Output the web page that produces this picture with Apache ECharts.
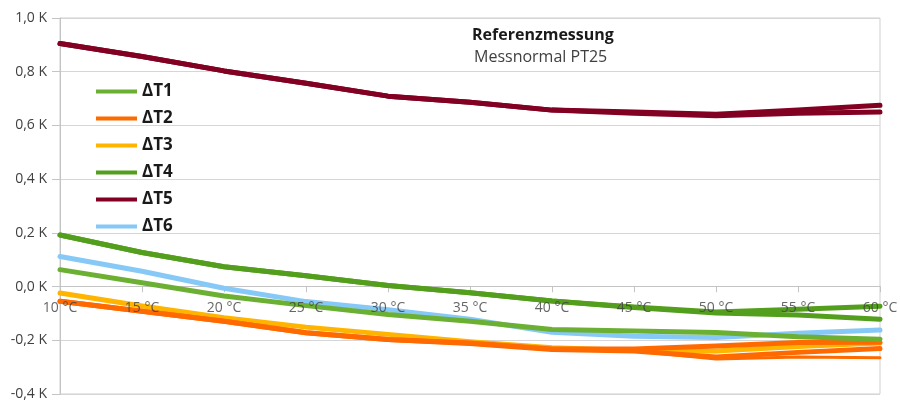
<!DOCTYPE html>
<html>
<head>
<meta charset="utf-8">
<script src="https://cdn.jsdelivr.net/npm/echarts@6/dist/echarts.min.js"></script>
<style>
  html, body { margin: 0; padding: 0; background: #ffffff; }
  #chart { width: 900px; height: 401px; }
</style>
</head>
<body>
<div id="chart"></div>
<script>
// Temperature points of the reference measurement
const categories = ['10 °C', '15 °C', '20 °C', '25 °C', '30 °C', '35 °C', '40 °C', '45 °C', '50 °C', '55 °C', '60 °C'];

// Deviations in K (two runs where the traces separate)
const dT1  = [0.063, 0.014, -0.035, -0.071, -0.104, -0.129, -0.160, -0.165, -0.171, -0.187, -0.196];
const dT2  = [-0.055, -0.092, -0.129, -0.172, -0.197, -0.210, -0.232, -0.232, -0.221, -0.208, -0.207];
const dT2b = [-0.055, -0.092, -0.129, -0.172, -0.197, -0.212, -0.234, -0.240, -0.262, -0.245, -0.231];
const dT2c = [-0.055, -0.092, -0.129, -0.172, -0.197, -0.212, -0.234, -0.240, -0.270, -0.262, -0.265];
const dT3  = [-0.024, -0.072, -0.116, -0.151, -0.178, -0.205, -0.228, -0.238, -0.240, -0.223, -0.210];
const dT4  = [0.192, 0.127, 0.074, 0.040, 0.004, -0.023, -0.054, -0.076, -0.095, -0.084, -0.073];
const dT4b = [0.192, 0.127, 0.074, 0.040, 0.004, -0.023, -0.054, -0.078, -0.098, -0.106, -0.122];
const dT5  = [0.905, 0.857, 0.803, 0.757, 0.709, 0.686, 0.657, 0.650, 0.642, 0.657, 0.675];
const dT5b = [0.905, 0.857, 0.803, 0.757, 0.709, 0.686, 0.657, 0.645, 0.636, 0.645, 0.650];
const dT6  = [0.112, 0.057, -0.006, -0.056, -0.086, -0.122, -0.170, -0.185, -0.190, -0.174, -0.162];

const legendNames = ['ΔT1', 'ΔT2', 'ΔT3', 'ΔT4', 'ΔT5', 'ΔT6'];
const titleText = 'Referenzmessung';
const subtitleText = 'Messnormal PT25';

// Value axis range
const Y_MIN = -0.4, Y_MAX = 1.0, Y_STEP = 0.2;

const FONT = '"Open Sans", "DejaVu Sans", sans-serif';
const colors = {
  t1: '#6cb033', t2: '#ff6a00', t3: '#ffb400', t4: '#539f1d', t5: '#820022', t6: '#86c9f7'
};

const CHART_H = 401, GRID_TOP = 18, GRID_BOTTOM = 6;
const gridHeight = CHART_H - GRID_TOP - GRID_BOTTOM;
// the category axis is drawn across the zero line of the value axis
const zeroShift = gridHeight * (0 - Y_MIN) / (Y_MAX - Y_MIN);

function line(name, data, color, width) {
  return {
    name: name, type: 'line', data: data, symbol: 'none', smooth: false,
    z: 2,
    color: color,
    lineStyle: { color: color, width: width || 5, cap: 'round', join: 'round' },
    emphasis: { disabled: true }, silent: true
  };
}

// Temperature labels placed on the zero line, above the traces
const tempLabels = {
  name: 'Temperatur', type: 'scatter',
  data: categories.map(c => [c, 0]),
  symbol: 'circle', symbolSize: 1,
  itemStyle: { color: 'rgba(0,0,0,0)' },
  z: 10, silent: true,
  emphasis: { disabled: true },
  label: {
    show: true, position: 'bottom', distance: 14,
    formatter: p => categories[p.dataIndex],
    fontFamily: FONT, fontSize: 14, color: '#404040'
  },
  labelLayout: { hideOverlap: false }
};

const chart = echarts.init(document.getElementById('chart'), null, { renderer: 'canvas' });
chart.setOption({
  animation: false,
  backgroundColor: '#ffffff',
  textStyle: { fontFamily: FONT },
  grid: {
    left: 60, right: 20, top: GRID_TOP, bottom: GRID_BOTTOM, containLabel: false,
    show: true, borderColor: '#cfcfcf', borderWidth: 1
  },
  graphic: [
    { type: 'text', left: 472, top: 27, style: { text: titleText, font: 'bold 16px ' + FONT, fill: '#1a1a1a' } },
    { type: 'text', left: 474, top: 49, style: { text: subtitleText, font: '16px ' + FONT, fill: '#404040' } }
  ],
  legend: {
    data: legendNames,
    orient: 'vertical',
    left: 91, top: 78,
    icon: 'rect',
    itemWidth: 41, itemHeight: 4,
    itemGap: 10,
    textStyle: { fontFamily: FONT, fontSize: 17, fontWeight: 'bold', color: '#1a1a1a' },
    selectedMode: false
  },
  xAxis: {
    type: 'category',
    data: categories,
    boundaryGap: false,
    offset: -zeroShift,
    axisLine: { onZero: false, lineStyle: { color: '#c4c4c4', width: 1 } },
    axisTick: { show: true, length: 6, interval: 0, lineStyle: { color: '#c4c4c4' } },
    axisLabel: { show: false },
    splitLine: { show: false }
  },
  yAxis: {
    type: 'value',
    min: Y_MIN, max: Y_MAX, interval: Y_STEP,
    axisLine: { show: true, lineStyle: { color: '#c4c4c4', width: 1 } },
    axisTick: { show: true, length: 8, lineStyle: { color: '#c4c4c4' } },
    axisLabel: {
      margin: 13, fontSize: 14, color: '#404040', fontFamily: FONT,
      formatter: v => v.toFixed(1).replace('.', ',') + ' K'
    },
    splitLine: { show: true, lineStyle: { color: '#d6d6d6', width: 1 } }
  },
  series: [
    line('ΔT5', dT5, colors.t5),
    line('ΔT5 b', dT5b, colors.t5),
    line('ΔT6', dT6, colors.t6),
    line('ΔT3', dT3, colors.t3),
    line('ΔT2 c', dT2c, colors.t2, 3),
    line('ΔT2 b', dT2b, colors.t2),
    line('ΔT2', dT2, colors.t2),
    line('ΔT1', dT1, colors.t1),
    line('ΔT4 b', dT4b, colors.t4),
    line('ΔT4', dT4, colors.t4),
    tempLabels
  ]
});
</script>
</body>
</html>
